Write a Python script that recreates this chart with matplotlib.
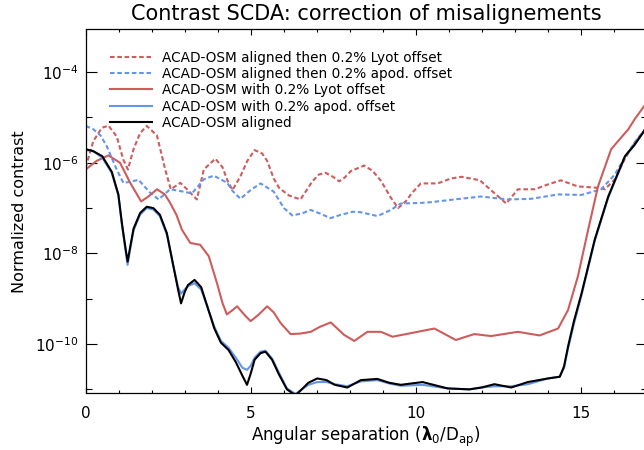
import matplotlib
matplotlib.use("Agg")
import matplotlib.pyplot as plt
from matplotlib.ticker import FixedLocator, NullFormatter

plt.rcParams['font.family'] = ['DejaVu Sans']
plt.rcParams['mathtext.fontset'] = 'dejavusans'

# ---- data ----
x_aligned = [0.00, 0.23, 0.50, 0.79, 0.99, 1.10, 1.20, 1.27, 1.35, 1.45, 1.65, 1.85, 2.05, 2.25, 2.46,
             2.65, 2.80, 2.89, 3.00, 3.10, 3.30, 3.50, 3.70, 3.90, 4.10, 4.33, 4.55, 4.75, 4.89, 5.00,
             5.12, 5.30, 5.45, 5.65, 5.85, 6.10, 6.36, 6.55, 6.75, 7.02, 7.30, 7.55, 7.93, 8.34, 8.84,
             9.20, 9.55, 10.21, 10.97, 11.63, 12.00, 12.39, 12.90, 13.40, 14.01, 14.37, 14.50, 14.62,
             14.80, 15.03, 15.43, 15.84, 16.35, 16.64, 17.00]
y_aligned = [2.0e-6, 1.8e-6, 1.4e-6, 6.3e-7, 2.0e-7, 4.5e-8, 1.4e-8, 6.6e-9, 1.4e-8, 3.5e-8, 7.8e-8,
             1.07e-7, 1.0e-7, 7.1e-8, 2.8e-8, 5.6e-9, 1.6e-9, 7.9e-10, 1.4e-9, 2.0e-9, 2.6e-9, 1.8e-9,
             6.3e-10, 2.2e-10, 1.07e-10, 7.4e-11, 4.0e-11, 2.0e-11, 1.26e-11, 2.2e-11, 4.5e-11, 6.3e-11,
             6.8e-11, 4.5e-11, 2.2e-11, 1.0e-11, 7.4e-12, 1.0e-11, 1.4e-11, 1.74e-11, 1.6e-11, 1.26e-11,
             1.1e-11, 1.6e-11, 1.7e-11, 1.4e-11, 1.26e-11, 1.45e-11, 1.05e-11, 1.0e-11, 1.1e-11, 1.3e-11,
             1.1e-11, 1.45e-11, 1.74e-11, 1.9e-11, 3.2e-11, 8.7e-11, 3.2e-10, 1.3e-9, 2.0e-8, 1.8e-7,
             1.4e-6, 2.5e-6, 6.0e-6]

x_apod = x_aligned
y_apod = [1.9e-6, 1.8e-6, 1.3e-6, 6.0e-7, 1.9e-7, 4.2e-8, 1.26e-8, 5.6e-9, 1.26e-8, 3.2e-8, 7.2e-8,
          1.0e-7, 9.3e-8, 6.6e-8, 2.6e-8, 5.6e-9, 1.8e-9, 1.3e-9, 1.6e-9, 1.9e-9, 2.2e-9, 1.6e-9,
          6.3e-10, 2.4e-10, 1.17e-10, 8.3e-11, 5.0e-11, 3.0e-11, 2.7e-11, 3.3e-11, 5.0e-11, 6.8e-11,
          7.1e-11, 4.8e-11, 2.4e-11, 1.05e-11, 7.9e-12, 1.0e-11, 1.26e-11, 1.45e-11, 1.45e-11, 1.3e-11,
          1.17e-11, 1.5e-11, 1.6e-11, 1.35e-11, 1.2e-11, 1.26e-11, 1.05e-11, 1.0e-11, 1.1e-11, 1.17e-11,
          1.17e-11, 1.3e-11, 1.74e-11, 1.9e-11, 3.0e-11, 7.9e-11, 2.8e-10, 1.2e-9, 1.9e-8, 1.7e-7,
          1.4e-6, 2.5e-6, 6.0e-6]

x_lyot = [0.00, 0.33, 0.69, 1.04, 1.35, 1.68, 1.90, 2.16, 2.40, 2.56, 2.75, 2.92, 3.17, 3.47, 3.73,
          3.98, 4.15, 4.28, 4.45, 4.59, 4.80, 5.00, 5.25, 5.50, 5.70, 5.91, 6.21, 6.50, 6.82, 7.10,
          7.43, 7.83, 8.14, 8.54, 8.95, 9.30, 9.96, 10.57, 11.22, 11.78, 12.29, 13.10, 13.76, 14.32,
          14.62, 14.92, 15.23, 15.53, 15.93, 16.45, 16.64, 17.00]
y_lyot = [7.1e-7, 1.1e-6, 1.45e-6, 1.0e-6, 3.6e-7, 1.4e-7, 1.8e-7, 2.6e-7, 2.0e-7, 1.3e-7, 7.1e-8,
          3.3e-8, 1.7e-8, 1.55e-8, 8.7e-9, 2.2e-9, 7.9e-10, 4.5e-10, 5.6e-10, 6.8e-10, 4.5e-10, 3.2e-10,
          4.5e-10, 6.8e-10, 5.0e-10, 2.9e-10, 1.66e-10, 1.7e-10, 1.86e-10, 2.4e-10, 3.0e-10, 1.6e-10,
          1.17e-10, 1.86e-10, 1.86e-10, 1.45e-10, 1.8e-10, 2.2e-10, 1.23e-10, 1.66e-10, 1.5e-10,
          1.86e-10, 1.55e-10, 2.2e-10, 5.6e-10, 3.1e-9, 3.3e-8, 3.0e-7, 2.0e-6, 5.5e-6, 9.1e-6, 2.1e-5]

x_then_lyot = [0.00, 0.23, 0.49, 0.69, 0.94, 1.14, 1.28, 1.45, 1.65, 1.85, 2.16, 2.41, 2.58, 2.87, 3.07,
               3.37, 3.58, 3.93, 4.15, 4.30, 4.45, 4.69, 4.90, 5.12, 5.35, 5.50, 5.70, 5.86, 6.16, 6.51,
               6.70, 6.87, 7.07, 7.27, 7.48, 7.68, 7.85, 8.03, 8.44, 8.70, 8.95, 9.25, 9.47, 9.70, 9.90,
               10.16, 10.67, 11.07, 11.40, 11.95, 12.34, 12.75, 13.10, 13.61, 14.00, 14.40, 14.92, 15.53,
               15.74, 16.04, 16.34, 16.64, 17.00]
y_then_lyot = [7.9e-7, 3.0e-6, 5.9e-6, 6.6e-6, 3.8e-6, 1.17e-6, 7.1e-7, 2.0e-6, 4.5e-6, 6.5e-6, 4.0e-6,
               7.1e-7, 2.6e-7, 3.6e-7, 2.6e-7, 1.55e-7, 7.1e-7, 1.23e-6, 7.9e-7, 4.0e-7, 2.5e-7, 5.0e-7,
               1.1e-6, 1.9e-6, 1.6e-6, 1.1e-6, 4.5e-7, 2.8e-7, 1.9e-7, 1.55e-7, 2.5e-7, 3.9e-7, 5.5e-7,
               6.0e-7, 5.0e-7, 3.9e-7, 4.7e-7, 6.5e-7, 8.7e-7, 6.6e-7, 4.0e-7, 1.7e-7, 1.0e-7, 1.4e-7,
               2.2e-7, 3.5e-7, 3.5e-7, 4.5e-7, 4.9e-7, 4.1e-7, 2.3e-7, 1.26e-7, 2.6e-7, 2.6e-7, 3.3e-7,
               4.1e-7, 3.0e-7, 2.8e-7, 2.6e-7, 4.3e-7, 1.2e-6, 2.8e-6, 6.0e-6]

x_then_apod = [0.00, 0.23, 0.45, 0.64, 0.94, 1.14, 1.35, 1.60, 1.95, 2.21, 2.56, 2.97, 3.22, 3.58, 3.88,
               4.29, 4.45, 4.69, 5.00, 5.30, 5.70, 6.01, 6.26, 6.55, 6.82, 7.10, 7.42, 7.73, 8.10, 8.34,
               8.79, 8.95, 9.25, 9.55, 10.16, 10.47, 11.17, 11.98, 12.79, 13.50, 14.32, 15.03, 15.63,
               16.04, 16.34, 16.64, 17.00]
y_then_apod = [6.5e-6, 5.5e-6, 4.0e-6, 2.3e-6, 7.1e-7, 3.6e-7, 3.8e-7, 4.2e-7, 2.2e-7, 1.55e-7, 2.6e-7,
               2.3e-7, 2.1e-7, 4.3e-7, 5.2e-7, 3.6e-7, 2.4e-7, 1.6e-7, 2.5e-7, 3.5e-7, 2.3e-7, 1.0e-7,
               6.9e-8, 7.6e-8, 9.1e-8, 7.6e-8, 6.0e-8, 7.1e-8, 8.3e-8, 8.1e-8, 6.8e-8, 7.2e-8, 9.1e-8,
               1.26e-7, 1.3e-7, 1.35e-7, 1.55e-7, 1.8e-7, 1.55e-7, 1.6e-7, 2.0e-7, 1.95e-7, 2.6e-7,
               5.5e-7, 1.3e-6, 2.8e-6, 6.0e-6]

labels = ["ACAD-OSM aligned then 0.2% Lyot offset",
          "ACAD-OSM aligned then 0.2% apod. offset",
          "ACAD-OSM with 0.2% Lyot offset",
          "ACAD-OSM with 0.2% apod. offset",
          "ACAD-OSM aligned"]

RED = '#cd5c5c'
BLUE = '#6495ed'

fig = plt.figure(figsize=(6.44, 4.5), dpi=100)
ax = fig.add_axes([85.7 / 644, 1 - 393 / 450, (646.5 - 85.7) / 644, (393 - 29.5) / 450])

dot = (0, (2.2, 1.3))
ax.plot(x_then_lyot, y_then_lyot, color=RED, lw=1.5, linestyle=dot, label=labels[0])
ax.plot(x_then_apod, y_then_apod, color=BLUE, lw=1.5, linestyle=dot, label=labels[1])
ax.plot(x_lyot, y_lyot, color=RED, lw=1.5, label=labels[2])
ax.plot(x_apod, y_apod, color=BLUE, lw=1.5, label=labels[3])
ax.plot(x_aligned, y_aligned, color='black', lw=1.5, label=labels[4])

ax.set_yscale('log')
ax.set_xlim(0, 17)
ax.set_ylim(10 ** -11.08, 10 ** -3.06)

ax.xaxis.set_major_locator(FixedLocator([0, 5, 10, 15]))
ax.xaxis.set_minor_locator(FixedLocator(list(range(0, 18))))
ax.yaxis.set_major_locator(FixedLocator([1e-10, 1e-8, 1e-6, 1e-4]))
ax.yaxis.set_minor_locator(FixedLocator([1e-11, 1e-9, 1e-7, 1e-5, 1e-3]))
ax.yaxis.set_minor_formatter(NullFormatter())

ax.tick_params(axis='both', which='both', direction='in', top=True, right=True, width=0.8)
ax.tick_params(axis='x', which='major', length=4, pad=9, labelsize=11)
ax.tick_params(axis='x', which='minor', length=2.5)
ax.tick_params(axis='y', which='major', length=8, pad=5, labelsize=11)
ax.tick_params(axis='y', which='minor', length=4.5)

for s in ax.spines.values():
    s.set_linewidth(0.9)

ax.set_title("Contrast SCDA: correction of misalignements", fontsize=15, pad=6.5)
ax.set_xlabel(r"Angular separation ($\mathbf{\lambda}_0$/D$_{\rm ap}$)", fontsize=12, labelpad=3)
ax.set_ylabel("Normalized contrast", fontsize=11.5, labelpad=6)

ax.legend(loc='upper left', bbox_to_anchor=(0.043, 0.942), frameon=False, fontsize=9.8,
          handlelength=3.1, handletextpad=0.7, labelspacing=0.17, borderpad=0, borderaxespad=0)

fig.savefig("out.png", dpi=100)
